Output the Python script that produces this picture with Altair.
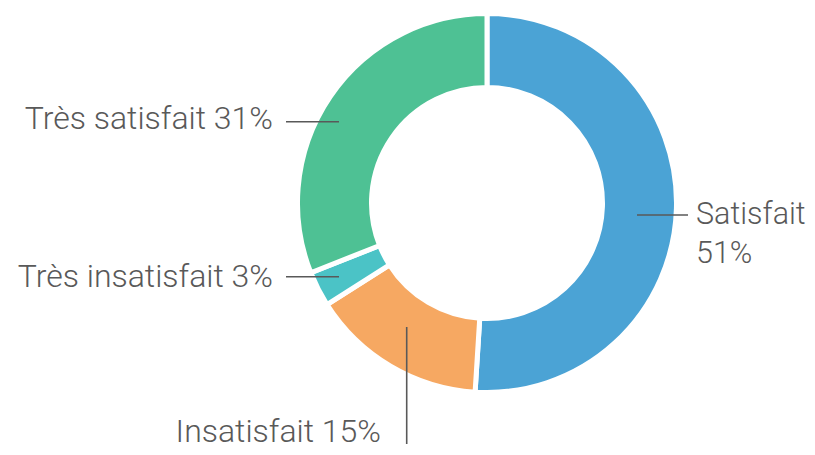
import altair as alt
import pandas as pd

# ---- data ----
categories = ["Satisfait", "Insatisfait", "Très insatisfait", "Très satisfait"]
values = [51, 15, 3, 31]
colors = ["#4BA3D5", "#F6A862", "#4BC3C6", "#4EC194"]

# ---- layout (pixels, chart coordinates) ----
W, H = 799, 439
CX, CY = 479, 195
R_OUT, R_IN = 189.5, 115.5
TEXT_COLOR = "#595959"
FONT = "Roboto"
FSIZE = 32

df = pd.DataFrame({"cat": categories, "val": values, "order": list(range(len(categories)))})

arcs = alt.Chart(df).mark_arc(
    outerRadius=R_OUT, innerRadius=R_IN, stroke="white", strokeWidth=5
).encode(
    theta=alt.Theta("val:Q", stack=True),
    order=alt.Order("order:Q"),
    color=alt.Color("cat:N", scale=alt.Scale(domain=categories, range=colors), legend=None),
    x=alt.value(CX),
    y=alt.value(CY),
)

# label texts derived from data
lab = {c: f"{c} {v}%" for c, v in zip(categories, values)}
label_rows = [
    {"t": categories[0], "x": 688, "y": 216, "a": "left", "s": 30.5},
    {"t": f"{values[0]}%", "x": 688, "y": 254.7, "a": "left", "s": 30.5},
    {"t": lab["Très satisfait"], "x": 265, "y": 120.5, "a": "right", "s": FSIZE},
    {"t": lab["Très insatisfait"], "x": 265, "y": 279, "a": "right", "s": FSIZE},
    {"t": lab["Insatisfait"], "x": 373, "y": 433.5, "a": "right", "s": FSIZE},
]
ldf = pd.DataFrame(label_rows)

def text_layer(align, size):
    sub = ldf[(ldf["a"] == align) & (ldf["s"] == size)]
    return alt.Chart(sub).mark_text(
        align=align, baseline="alphabetic", font=FONT, fontSize=size,
        fontWeight=300, color=TEXT_COLOR
    ).encode(
        x=alt.X("x:Q", scale=None),
        y=alt.Y("y:Q", scale=None),
        text="t:N",
    )

line_rows = [
    {"x": 629, "y": 207, "x2": 680, "y2": 207},
    {"x": 278, "y": 113.7, "x2": 331, "y2": 113.7},
    {"x": 278, "y": 268.7, "x2": 331, "y2": 268.7},
    {"x": 398.7, "y": 319, "x2": 398.7, "y2": 436},
]
rdf = pd.DataFrame(line_rows)
rules = alt.Chart(rdf).mark_rule(color=TEXT_COLOR, strokeWidth=1.6).encode(
    x=alt.X("x:Q", scale=None),
    y=alt.Y("y:Q", scale=None),
    x2="x2:Q",
    y2="y2:Q",
)

chart = alt.layer(
    arcs, rules, text_layer("left", 30.5), text_layer("right", FSIZE)
).properties(
    width=W, height=H, autosize=alt.AutoSizeParams(type="none"), padding=0
).configure_view(stroke=None)

chart.save("out.html", embed_options={"renderer": "svg", "actions": False})
